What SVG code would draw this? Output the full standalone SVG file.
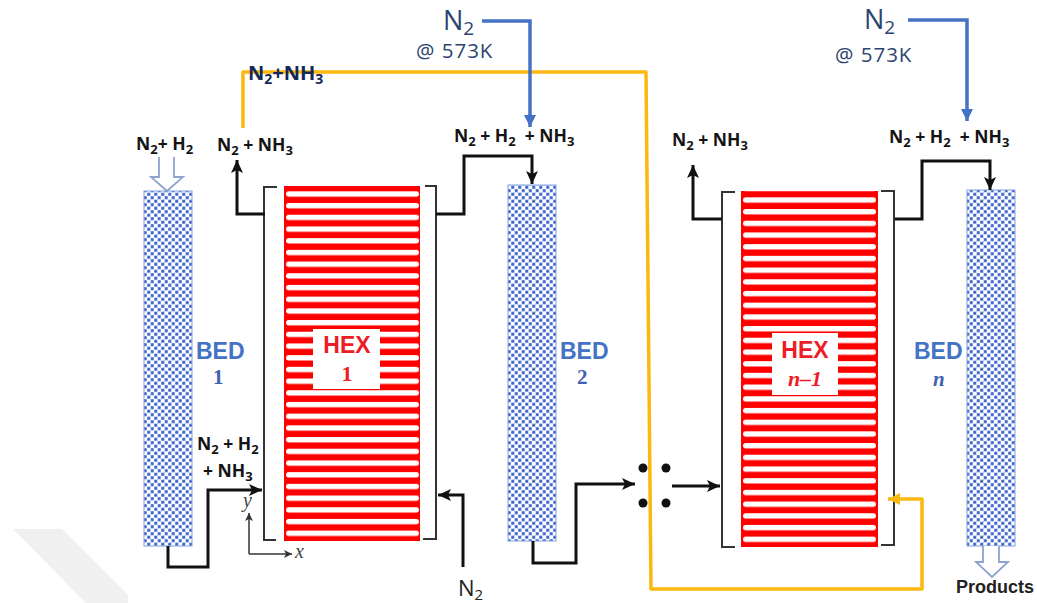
<svg xmlns="http://www.w3.org/2000/svg" width="1037" height="603" viewBox="0 0 1037 603">
<style>
.lb{font-family:"Open Sans","Noto Sans",sans-serif;font-weight:700;font-size:17.5px;fill:#141414}
.sub{font-size:13px}
.nt{font-family:"Open Sans","Noto Sans",sans-serif;font-size:27px;fill:#2c4470}
.nts{font-size:19px}
.nb{font-family:"Open Sans","Noto Sans",sans-serif;font-size:20.5px;letter-spacing:1px;fill:#2c4470}
.bed{font-family:"Liberation Sans",Arial,sans-serif;font-weight:700;font-size:23px;fill:#4472c4}
.bn{font-family:"Liberation Serif",serif;font-weight:700;font-size:21px;fill:#3f63b0}
.hx{font-family:"Liberation Sans",Arial,sans-serif;font-weight:700;font-size:23px;fill:#ee1c25;text-anchor:middle}
.hn{font-family:"Liberation Serif",serif;font-weight:700;font-size:22px;fill:#ee1c25;text-anchor:middle}
.bk{fill:none;stroke:#111;stroke-width:3}
.br{fill:none;stroke:#333;stroke-width:2}
.ye{fill:none;stroke:#fbb80f;stroke-width:3.5;stroke-linejoin:round}
.bl{fill:none;stroke:#4472c4;stroke-width:3.5}
.op{fill:#fff;stroke:#8ea3cf;stroke-width:1.8}
.bedr{fill:url(#chk);stroke:#7f9fe0;stroke-width:1}
</style>
<defs>
<pattern id="chk" width="7" height="7" patternUnits="userSpaceOnUse">
<rect width="7" height="7" fill="#a9bdec"/>
<circle cx="1.75" cy="1.75" r="2" fill="#fff"/><circle cx="5.25" cy="5.25" r="2" fill="#fff"/>
<circle cx="5.25" cy="1.75" r="1.4" fill="#3f66cc"/><circle cx="1.75" cy="5.25" r="1.4" fill="#3f66cc"/>
</pattern>
<pattern id="stp" width="137" height="11.7" patternUnits="userSpaceOnUse">
<rect width="137" height="11.7" fill="#ff0000"/>
<rect x="2" y="2.9" width="133" height="5.4" rx="2.7" fill="#fff"/>
</pattern>
<marker id="ab" markerWidth="14" markerHeight="12" refX="13" refY="6" orient="auto" markerUnits="userSpaceOnUse"><path d="M0,0 L13,6 L0,12 L3,6Z" fill="#111"/></marker>
<marker id="at" markerWidth="9" markerHeight="8" refX="8" refY="4" orient="auto" markerUnits="userSpaceOnUse"><path d="M0,0 L8,4 L0,8 L2,4Z" fill="#333"/></marker>
<marker id="ay" markerWidth="13" markerHeight="12" refX="12" refY="6" orient="auto" markerUnits="userSpaceOnUse"><path d="M0,0 L12,6 L0,12Z" fill="#fbb80f"/></marker>
<marker id="au" markerWidth="13" markerHeight="12" refX="12" refY="6" orient="auto" markerUnits="userSpaceOnUse"><path d="M0,0 L12,6 L0,12Z" fill="#4472c4"/></marker>
</defs>
<rect width="1037" height="603" fill="#fff"/>
<path d="M13,529 H62 L128,595 V603 H86Z" fill="#f0f0f0"/>

<g id="bed1"><rect class="bedr" x="144" y="191" width="48" height="355"/><path class="op" d="M159,157 V177 H151 L167,191 L183,177 H174 V157"/><text class="bed" x="196" y="359">BED</text><text class="bn" x="213" y="384">1</text></g>
<g id="bed2"><rect class="bedr" x="508" y="185" width="48" height="356"/><text class="bed" x="560" y="359">BED</text><text class="bn" x="577" y="384">2</text></g>
<g id="bedn"><rect class="bedr" x="967" y="190" width="48" height="356"/><path class="op" d="M983,546 V562 H976 L992,577 L1008,562 H999 V546"/><text class="bed" x="914" y="359">BED</text><text class="bn" x="933" y="386" font-style="italic">n</text></g>

<g id="hex1">
<g transform="translate(284,188.4)"><rect y="-2.4" width="136" height="355" fill="url(#stp)"/></g>
<path class="br" d="M277,187 H264 V540 H276 M425,186 H436 V539 H423"/>
<rect x="313" y="329" width="67" height="60" fill="#fff"/>
<text class="hx" x="347" y="353">HEX</text><text class="hn" x="347" y="381">1</text>
</g>
<g id="hexn">
<g transform="translate(741,194.4)"><rect y="-3.4" width="137" height="356" fill="url(#stp)"/></g>
<path class="br" d="M735,192 H722 V547 H735 M881,191 H894 V545 H881"/>
<rect x="772" y="333" width="66" height="62" fill="#fff"/>
<text class="hx" x="805" y="358">HEX</text><text class="hn" x="805" y="386" font-style="italic">n–1</text>
</g>

<g id="connectors">
<path class="bk" marker-end="url(#ab)" d="M265,214 H237 V160"/>
<path class="bk" marker-end="url(#ab)" d="M168,546 V567 H208 V490 H262"/>
<path class="bk" marker-end="url(#ab)" d="M436,214 H464 V156 H532 V184"/>
<path class="bk" marker-end="url(#ab)" d="M463,567 V495 H438"/>
<path class="bk" marker-end="url(#ab)" d="M533,541 V563 H576 V484 H635"/>
<path class="bk" marker-end="url(#ab)" d="M672,486 H720"/>
<path class="bk" marker-end="url(#ab)" d="M722,219 H693 V165"/>
<path class="bk" marker-end="url(#ab)" d="M895,219 H922 V161 H990 V190"/>
<path d="M249,554 V513" fill="none" stroke="#333" stroke-width="1.5" marker-end="url(#at)"/>
<path d="M249,554 H292" fill="none" stroke="#333" stroke-width="1.5" marker-end="url(#at)"/>
<path class="ye" d="M243,128 V72 H646 L651,589 H922 V499 H888" marker-end="url(#ay)"/>
<path class="bl" d="M482,21 H530 V127" marker-end="url(#au)"/>
<path class="bl" d="M908,20 H967 V121" marker-end="url(#au)"/>
</g>
<g id="dots" fill="#111"><circle cx="643" cy="468" r="4.5"/><circle cx="666" cy="468" r="4.5"/><circle cx="643" cy="503" r="4.5"/><circle cx="666" cy="503" r="4.5"/></g>

<g id="labels">
<text class="lb" x="136" y="150">N<tspan class="sub" dy="4">2</tspan><tspan dy="-4">+ H</tspan><tspan class="sub" dy="4">2</tspan></text>
<text class="lb" x="217" y="151">N<tspan class="sub" dy="4">2</tspan><tspan dy="-4"> + NH</tspan><tspan class="sub" dy="4">3</tspan></text>
<text class="lb" x="454" y="142">N<tspan class="sub" dy="4">2</tspan><tspan dy="-4"> + H</tspan><tspan class="sub" dy="4">2</tspan><tspan dy="-4" xml:space="preserve">  + NH</tspan><tspan class="sub" dy="4">3</tspan></text>
<text class="lb" x="672" y="146">N<tspan class="sub" dy="4">2</tspan><tspan dy="-4"> + NH</tspan><tspan class="sub" dy="4">3</tspan></text>
<text class="lb" x="889" y="143">N<tspan class="sub" dy="4">2</tspan><tspan dy="-4"> + H</tspan><tspan class="sub" dy="4">2</tspan><tspan dy="-4" xml:space="preserve">  + NH</tspan><tspan class="sub" dy="4">3</tspan></text>
<text class="lb" x="197" y="450">N<tspan class="sub" dy="4">2</tspan><tspan dy="-4"> + H</tspan><tspan class="sub" dy="4">2</tspan></text>
<text class="lb" x="203" y="477">+ NH<tspan class="sub" dy="4">3</tspan></text>
<text x="458" y="596" font-family="Open Sans,Noto Sans,sans-serif" font-size="22" fill="#222">N<tspan font-size="15" dy="4">2</tspan></text>
<text x="956" y="593" font-family="Liberation Sans,Arial,sans-serif" font-weight="700" font-size="18" fill="#222">Products</text>
<text class="nt" x="443" y="30">N<tspan class="nts" dy="5">2</tspan></text>
<text class="nb" x="416" y="58">@ 573K</text>
<text class="nt" x="864" y="29">N<tspan class="nts" dy="5">2</tspan></text>
<text class="nb" x="835" y="62">@ 573K</text>
<text x="248" y="80" font-family="Open Sans,Noto Sans,sans-serif" font-weight="700" font-size="20" fill="#14285a">N<tspan font-size="14" dy="4">2</tspan><tspan dy="-4">+NH</tspan><tspan font-size="14" dy="4">3</tspan></text>
<text x="243" y="507" font-family="Liberation Serif,serif" font-style="italic" font-size="20" fill="#444">y</text>
<text x="295" y="558" font-family="Liberation Serif,serif" font-style="italic" font-size="20" fill="#444">x</text>
</g>
</svg>
